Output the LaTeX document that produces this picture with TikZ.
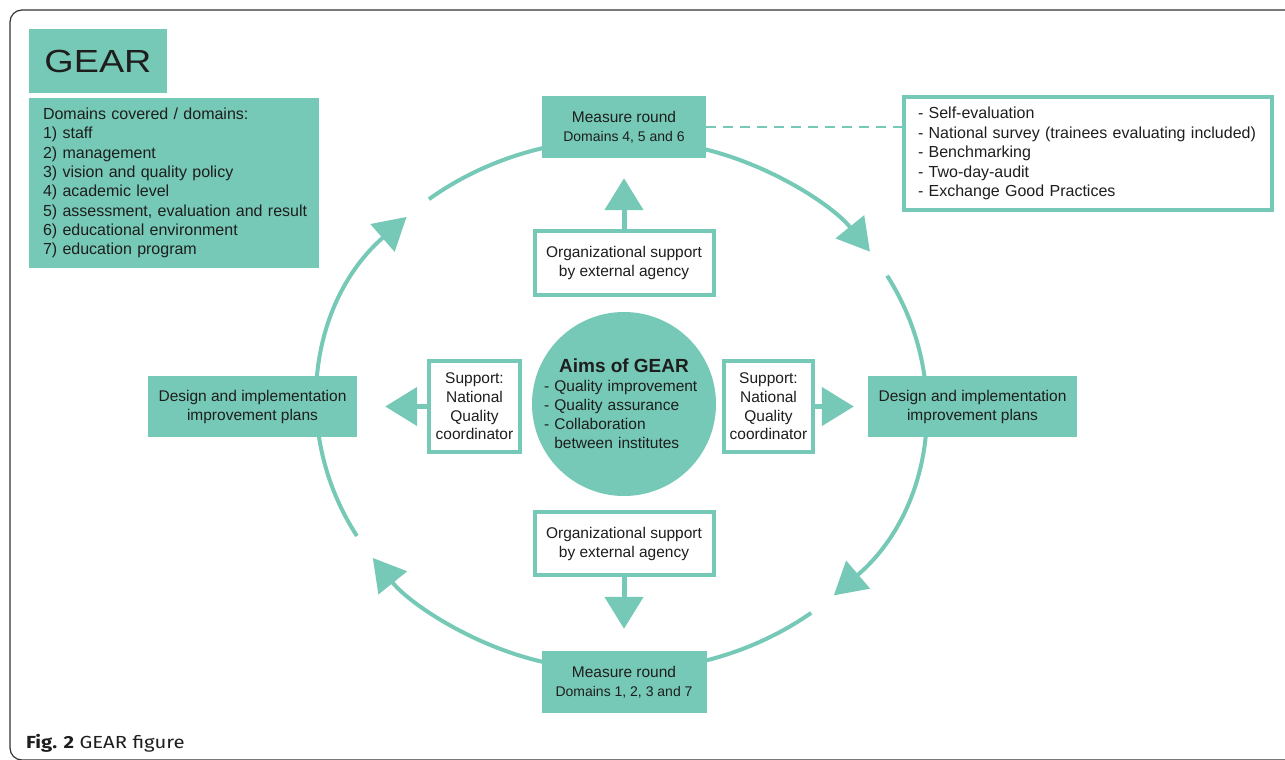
\documentclass[tikz,border=0pt]{standalone}
\usepackage{fontspec}
\setmainfont{Liberation Sans}
\newfontfamily\gearfont[FakeStretch=1.18]{Liberation Sans}
\newfontfamily\figfont[FakeStretch=1.16]{Fira Sans}
\usetikzlibrary{arrows.meta,calc}
\definecolor{gearteal}{RGB}{118,201,182}
\definecolor{geartext}{RGB}{30,30,30}

\begin{document}
\begin{tikzpicture}[x=1pt,y=-1pt]
        \tikzset{
        gear fill/.style={fill=gearteal,draw=none,inner sep=0,align=center,text=geartext,font=\fontsize{15.5}{19}\selectfont},
        gear line/.style={fill=white,draw=gearteal,line width=4pt,inner sep=0,align=center,text=geartext,font=\fontsize{15.5}{19}\selectfont},
        gear ring/.style={color=gearteal,line width=4pt,-{Triangle[length=32pt,width=36pt]}},
        gear arrow/.style={color=gearteal,line width=5pt,-{Triangle[length=32pt,width=38pt]}}
        }
        \useasboundingbox (0,0) rectangle (1285,760);
        \clip (0,0) rectangle (1285,760);
        \draw[rounded corners=12pt,line width=1.2pt,draw=black!80] (10,10) rectangle (1320,760);

        % ring
        \coordinate (0) at (621.5,405);
        \draw[gear ring] ($(0)+(-129.3:304 and 266)$) arc[start angle=-129.3,end angle=-35.2,x radius=304,y radius=266];
        \draw[gear ring] ($(0)+(-29.1:304 and 266)$) arc[start angle=-29.1,end angle=45.7,x radius=304,y radius=266];
        \draw[gear ring] ($(0)+(51.4:304 and 266)$) arc[start angle=51.4,end angle=144.9,x radius=304,y radius=266];
        \draw[gear ring] ($(0)+(150.5:304 and 266)$) arc[start angle=150.5,end angle=225,x radius=304,y radius=266];

        \node[gear fill,minimum width=138pt,minimum height=64pt,font=\gearfont\fontsize{32}{36}\selectfont] (1) at (98,61) {GEAR};
        \node[gear fill,text width=270pt,inner xsep=10pt,minimum height=170pt,align=left,font=\fontsize{16}{19.3}\selectfont] (2) at (174,183) {\hspace*{4pt}Domains covered / domains:\\\hspace*{4pt}1) staff\\\hspace*{4pt}2) management\\\hspace*{4pt}3) vision and quality policy\\\hspace*{4pt}4) academic level\\\hspace*{4pt}5) assessment, evaluation and result\\\hspace*{4pt}6) educational environment\\\hspace*{4pt}7) education program};
        \node[gear fill,minimum width=164pt,minimum height=62pt] (3) at (624,127) {Measure round\\{\fontsize{14}{17}\selectfont Domains 4, 5 and 6}};
        \node[gear line,text width=340pt,inner xsep=14pt,minimum height=113pt,align=left,font=\fontsize{16}{19.5}\selectfont] (4) at (1088,153.5) {- Self-evaluation\\- National survey (trainees evaluating included)\\- Benchmarking\\- Two-day-audit\\- Exchange Good Practices};
        \node[gear line,minimum width=179pt,minimum height=64pt] (5) at (624,263) {Organizational support\\by external agency};
        \node[gear fill,circle,minimum size=184pt,text width=160pt,align=left] (6) at (624,404) {{\fontsize{19}{22}\selectfont\bfseries\hfill Aims of GEAR\hfill\null}\\- Quality improvement\\- Quality assurance\\- Collaboration\\\hphantom{- }between institutes};
        \node[gear line,minimum width=91pt,minimum height=91pt,font=\fontsize{15.5}{18.7}\selectfont] (7) at (474.5,406.5) {Support:\\National\\Quality\\coordinator};
        \node[gear line,minimum width=89pt,minimum height=91pt,font=\fontsize{15.5}{18.7}\selectfont] (8) at (768.5,406.5) {Support:\\National\\Quality\\coordinator};
        \node[gear fill,minimum width=209pt,minimum height=61pt] (9) at (252.5,406.5) {Design and implementation\\improvement plans};
        \node[gear fill,minimum width=209pt,minimum height=61pt] (10) at (972.5,406.5) {Design and implementation\\improvement plans};
        \node[gear line,minimum width=179pt,minimum height=63pt] (11) at (624,543.5) {Organizational support\\by external agency};
        \node[gear fill,minimum width=165pt,minimum height=62pt] (12) at (624,682) {Measure round\\{\fontsize{14}{17}\selectfont Domains 1, 2, 3 and 7}};
        \node[anchor=base west,inner sep=0,text=geartext,font=\figfont\fontsize{17.5}{20}\selectfont] (13) at (26,748) {\textbf{Fig. 2} GEAR figure};

        \path[gear arrow]
        (5) edge[shorten >=20pt] (3)
        (11) edge[shorten >=22pt] (12)
        (7) edge[shorten >=28pt] (9)
        (8) edge[shorten >=14pt] (10)
        ;
        \path[draw=gearteal,line width=2.5pt,dash pattern=on 10pt off 7pt]
        (3.east) -- (3.east -| 4.west);
    \end{tikzpicture}
\end{document}
